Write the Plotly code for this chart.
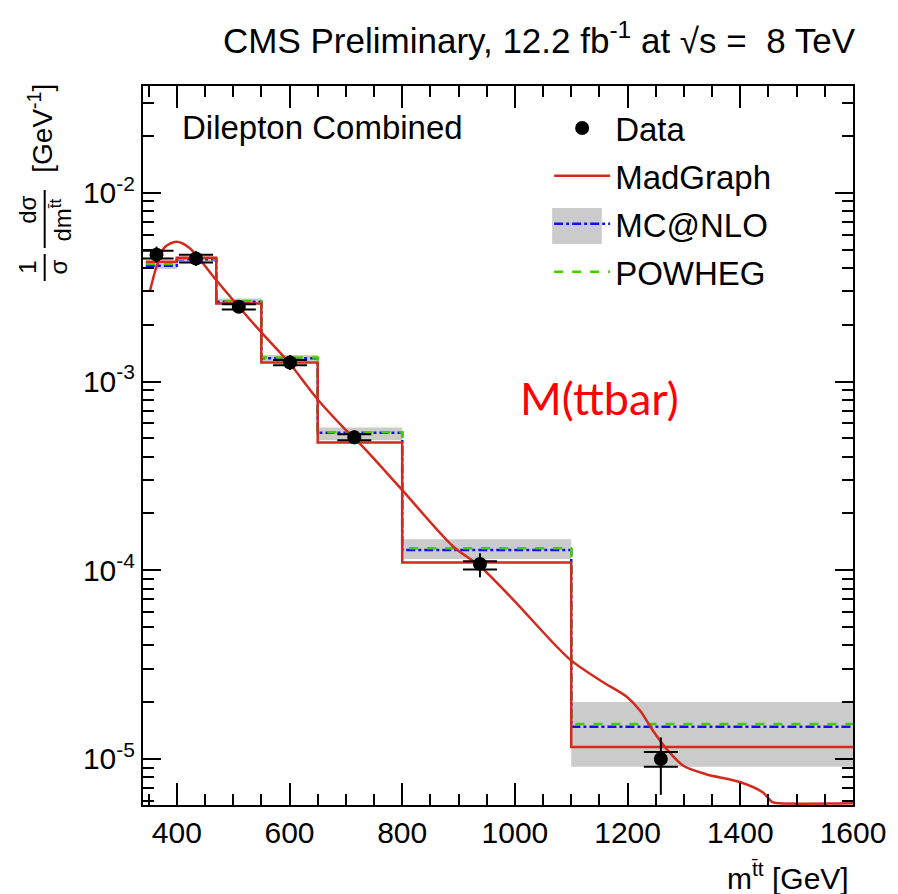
import plotly.graph_objects as go
import math

# ---------------- data ----------------
bin_edges = [345, 400, 470, 550, 650, 800, 1100, 1600]
madgraph_hist = [4.31e-3, 4.53e-3, 2.59e-3, 1.26e-3, 4.75e-4, 1.10e-4, 1.156e-5]
mcatnlo_hist = [4.10e-3, 4.45e-3, 2.65e-3, 1.33e-3, 5.35e-4, 1.28e-4, 1.48e-5]
powheg_hist = [4.20e-3, 4.47e-3, 2.67e-3, 1.34e-3, 5.39e-4, 1.306e-4, 1.53e-5]
mcatnlo_band_hi = [4.25e-3, 4.60e-3, 2.75e-3, 1.38e-3, 5.71e-4, 1.46e-4, 2.0e-5]
mcatnlo_band_lo = [3.95e-3, 4.30e-3, 2.55e-3, 1.28e-3, 4.88e-4, 1.145e-4, 9.1e-6]

data_x = [364, 434, 510, 601, 715, 938, 1259]
data_y = [4.70e-3, 4.48e-3, 2.49e-3, 1.26e-3, 5.06e-4, 1.08e-4, 1.0e-5]
data_stat_hi = [4.93e-3, 4.70e-3, 2.57e-3, 1.30e-3, 5.25e-4, 1.117e-4, 1.089e-5]
data_stat_lo = [4.48e-3, 4.27e-3, 2.41e-3, 1.22e-3, 4.88e-4, 1.01e-4, 9.08e-6]
data_tot_hi = [5.18e-3, 4.90e-3, 2.65e-3, 1.38e-3, 5.50e-4, 1.23e-4, 1.30e-5]
data_tot_lo = [4.27e-3, 4.10e-3, 2.34e-3, 1.15e-3, 4.65e-4, 9.18e-5, 6.45e-6]

curve_x = [352, 364, 378, 399, 422, 469, 510, 550, 599, 650, 697, 732, 755, 799,
           890, 938, 996, 1097, 1153, 1199, 1223, 1243, 1269, 1299, 1339, 1399,
           1439, 1457, 1470, 1600]
curve_y = [2.99e-3, 4.06e-3, 5.12e-3, 5.5e-3, 5.12e-3, 3.47e-3, 2.49e-3, 1.82e-3,
           1.26e-3, 8.03e-4, 5.65e-4, 4.45e-4, 3.75e-4, 2.68e-4, 1.34e-4, 1.05e-4,
           7.03e-5, 3.38e-5, 2.59e-5, 2.13e-5, 1.79e-5, 1.44e-5, 1.13e-5, 9.2e-6,
           8.3e-6, 7.55e-6, 6.68e-6, 5.9e-6, 5.82e-6, 5.82e-6]

x_tick_vals = [400, 600, 800, 1000, 1200, 1400, 1600]
y_tick_vals = [1e-5, 1e-4, 1e-3, 1e-2]
y_tick_text = ["10<sup>-5</sup>", "10<sup>-4</sup>", "10<sup>-3</sup>", "10<sup>-2</sup>"]
y_minor_vals = [k * 10.0 ** e for e in range(-6, -1) for k in range(2, 10)]

# ---------------- geometry helpers (layout only) ----------------
W, H = 898, 894
L, R, T, B = 143, 858, 86, 805


def px(xp):
    return (xp - L) / (R - L)


def py(yp):
    return (B - yp) / (B - T)


FONT = "Liberation Sans, Arial, Helvetica, sans-serif"
RED = "#d42a1e"
BLUE = "#1010ff"
GREEN = "#44cc00"

fig = go.Figure()

# MC@NLO uncertainty band
bx, by = [], []
for e0, e1, lo, hi in zip(bin_edges[:-1], bin_edges[1:], mcatnlo_band_lo, mcatnlo_band_hi):
    bx += [e0, e1, e1, e0, e0, None]
    by += [lo, lo, hi, hi, lo, None]
fig.add_trace(go.Scatter(x=bx, y=by, mode="lines", fill="toself", fillcolor="#cbcbcb",
                         line=dict(width=0, color="#cbcbcb"), showlegend=False,
                         hoverinfo="skip"))

# MC@NLO central
fig.add_trace(go.Scatter(x=bin_edges, y=mcatnlo_hist + [mcatnlo_hist[-1]], mode="lines",
                         line=dict(color=BLUE, width=2.5, dash="dashdot", shape="hv"),
                         name="MC@NLO", legendgroup="c", legendrank=3))
# POWHEG
fig.add_trace(go.Scatter(x=bin_edges, y=powheg_hist + [powheg_hist[-1]], mode="lines",
                         line=dict(color=GREEN, width=2.5, dash="dash", shape="hv"),
                         name="POWHEG", legendgroup="d", legendrank=4))
# MadGraph histogram
fig.add_trace(go.Scatter(x=bin_edges, y=madgraph_hist + [madgraph_hist[-1]], mode="lines",
                         line=dict(color=RED, width=2.5, shape="hv"),
                         name="MadGraph", legendgroup="b", legendrank=2))
# MadGraph smooth curve
fig.add_trace(go.Scatter(x=curve_x, y=curve_y, mode="lines",
                         line=dict(color=RED, width=2.5, shape="spline", smoothing=0.8),
                         showlegend=False, hoverinfo="skip"))

# Data total errors
fig.add_trace(go.Scatter(x=data_x, y=data_y, mode="markers",
                         marker=dict(size=1, color="black", opacity=0),
                         error_y=dict(type="data", symmetric=False,
                                      array=[h - y for h, y in zip(data_tot_hi, data_y)],
                                      arrayminus=[y - l for l, y in zip(data_tot_lo, data_y)],
                                      color="black", thickness=2, width=0),
                         showlegend=False, hoverinfo="skip"))
# Data stat errors + markers
fig.add_trace(go.Scatter(x=data_x, y=data_y, mode="markers",
                         marker=dict(size=14, color="black"),
                         error_y=dict(type="data", symmetric=False,
                                      array=[h - y for h, y in zip(data_stat_hi, data_y)],
                                      arrayminus=[y - l for l, y in zip(data_stat_lo, data_y)],
                                      color="black", thickness=2, width=17),
                         name="Data", legendgroup="a", legendrank=1))

axis_common = dict(showline=True, linewidth=2, linecolor="black", mirror="allticks",
                   showgrid=False, zeroline=False, ticks="inside", tickwidth=2,
                   tickcolor="black", tickfont=dict(family=FONT, size=30, color="black"))

fig.update_xaxes(range=[340, 1600], tickvals=x_tick_vals, ticklen=22,
                 minor=dict(dtick=50, tick0=0, ticks="inside", ticklen=11, tickwidth=2,
                            tickcolor="black", showgrid=False),
                 **axis_common)
fig.update_yaxes(type="log", range=[math.log10(5.7e-6), math.log10(0.0368)],
                 tickvals=y_tick_vals, ticktext=y_tick_text, ticklen=18,
                 minor=dict(tickvals=y_minor_vals, ticks="inside", ticklen=11, tickwidth=2,
                            tickcolor="black", showgrid=False),
                 **axis_common)

annotations = [
    dict(text="CMS Preliminary, 12.2 fb<sup>-1</sup> at \u221As =\u00a0 8 TeV", x=px(542), y=py(38),
         font=dict(family=FONT, size=35, color="black")),
    dict(text="Dilepton Combined", x=px(180), y=py(128), xanchor="left",
         font=dict(family=FONT, size=33, color="black")),
    dict(text="M(ttbar)", x=px(603), y=py(398),
         font=dict(family="Lato, Open Sans, sans-serif", size=45, color="#ff0000")),
    dict(text="m<sup>t\u0304t</sup> [GeV]", x=px(856), y=py(876), xanchor="right",
         font=dict(family=FONT, size=30, color="black")),
    # y-axis title pieces (rotated)
    dict(text="1", x=px(26), y=py(267), textangle=-90, font=dict(family=FONT, size=24, color="black")),
    dict(text="\u03c3", x=px(57), y=py(267), textangle=-90, font=dict(family=FONT, size=24, color="black")),
    dict(text="d\u03c3", x=px(26), y=py(210), textangle=-90, font=dict(family=FONT, size=24, color="black")),
    dict(text="dm<sup>t\u0304t</sup>", x=px(60), y=py(220), textangle=-90, font=dict(family=FONT, size=24, color="black")),
    dict(text="[GeV<sup>-1</sup>]", x=px(40), y=py(128), textangle=-90, font=dict(family=FONT, size=28, color="black")),
]
for a in annotations:
    a.setdefault("xref", "paper")
    a.setdefault("yref", "paper")
    a.setdefault("showarrow", False)
    a.setdefault("xanchor", "center")
    a.setdefault("yanchor", "middle")

shapes = [
    dict(type="line", xref="paper", yref="paper", x0=px(44), x1=px(44), y0=py(254), y1=py(281),
         line=dict(color="black", width=2)),
    dict(type="line", xref="paper", yref="paper", x0=px(44), x1=px(44), y0=py(190), y1=py(248),
         line=dict(color="black", width=2)),
    # legend swatch for MC@NLO band
    dict(type="rect", xref="paper", yref="paper", x0=px(555), x1=px(605), y0=py(244), y1=py(208),
         fillcolor="#cbcbcb", line=dict(width=0), layer="below"),
]

fig.update_layout(
    width=W, height=H,
    margin=dict(l=L, r=W - R, t=T, b=H - B, pad=0),
    paper_bgcolor="white", plot_bgcolor="rgba(0,0,0,0)",
    showlegend=True,
    legend=dict(x=px(552), y=py(100), xanchor="left", yanchor="top",
                bgcolor="rgba(0,0,0,0)", font=dict(family=FONT, size=33, color="black"),
                tracegroupgap=2, itemwidth=56),
    annotations=annotations,
    shapes=shapes,
)

fig.write_html("out.html")
